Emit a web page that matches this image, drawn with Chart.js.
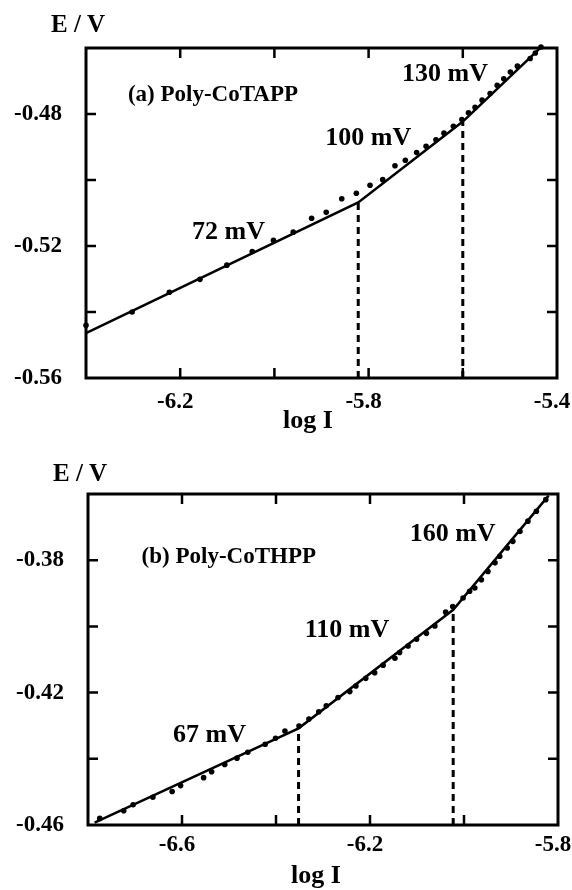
<!DOCTYPE html>
<html>
<head>
<meta charset="utf-8">
<script src="https://cdn.jsdelivr.net/npm/chart.js@4.4.1/dist/chart.umd.min.js"></script>
<style>
  html, body { margin: 0; padding: 0; background: #fff; }
  canvas { display: block; }
</style>
</head>
<body>
<canvas id="chartA" width="572" height="445"></canvas>
<canvas id="chartB" width="572" height="445"></canvas>
<script>
// (a) Poly-CoTAPP: measured points and the three-segment Tafel fit
const aLogI = [-6.400, -6.302, -6.223, -6.158, -6.101, -6.047, -6.002, -5.960, -5.921, -5.890,
  -5.857, -5.826, -5.797, -5.770, -5.744, -5.722, -5.698, -5.678, -5.657, -5.640,
  -5.620, -5.602, -5.588, -5.574, -5.559, -5.542, -5.527, -5.513, -5.499, -5.484,
  -5.457, -5.446, -5.434];
const aE = [-0.5440, -0.5400, -0.5340, -0.5301, -0.5258, -0.5217, -0.5183, -0.5158, -0.5116, -0.5098,
  -0.5057, -0.5040, -0.5016, -0.4999, -0.4957, -0.4940, -0.4917, -0.4898, -0.4878, -0.4858,
  -0.4837, -0.4817, -0.4796, -0.4780, -0.4758, -0.4738, -0.4713, -0.4693, -0.4673, -0.4655,
  -0.4632, -0.4615, -0.4597];
const aFitLogI = [-6.400, -5.822, -5.600, -5.432];
const aFitE = [-0.5464, -0.5068, -0.4823, -0.4595];
const aSlopes = ["72 mV", "100 mV", "130 mV"];

// (b) Poly-CoTHPP
const bLogI = [-6.775, -6.724, -6.704, -6.662, -6.621, -6.603, -6.554, -6.537, -6.509, -6.483,
  -6.460, -6.423, -6.401, -6.381, -6.351, -6.330, -6.309, -6.293, -6.268, -6.243,
  -6.230, -6.209, -6.190, -6.172, -6.147, -6.137, -6.119, -6.101, -6.080, -6.062,
  -6.039, -6.024, -6.002, -5.988, -5.977, -5.963, -5.949, -5.934, -5.924, -5.908,
  -5.896, -5.881, -5.864, -5.846, -5.826];
const bE = [-0.4580, -0.4557, -0.4539, -0.4516, -0.4499, -0.4481, -0.4457, -0.4439, -0.4417, -0.4398,
  -0.4380, -0.4356, -0.4338, -0.4316, -0.4301, -0.4280, -0.4258, -0.4240, -0.4215, -0.4197,
  -0.4180, -0.4157, -0.4140, -0.4117, -0.4096, -0.4079, -0.4059, -0.4039, -0.4021, -0.3999,
  -0.3957, -0.3940, -0.3914, -0.3894, -0.3884, -0.3859, -0.3834, -0.3808, -0.3788, -0.3763,
  -0.3743, -0.3713, -0.3682, -0.3652, -0.3617];
const bFitLogI = [-6.786, -6.352, -6.023, -5.820];
const bFitE = [-0.4593, -0.4308, -0.3950, -0.3605];
const bSlopes = ["67 mV", "110 mV", "160 mV"];

const SERIF = '"Liberation Serif", "Times New Roman", serif';

const zip = (xs, ys) => xs.map((v, i) => ({ x: v, y: ys[i] }));

// frame with inward ticks on all four sides, x tick labels and the text inside the plot
const framePlugin = {
  id: "frame",
  afterDraw(chart, args, opts) {
    const { ctx, chartArea: a, scales } = chart;
    const x = scales.x, y = scales.y;
    ctx.save();
    ctx.strokeStyle = "#000";
    ctx.fillStyle = "#000";

    ctx.lineWidth = 2.5;
    ctx.beginPath();
    x.ticks.forEach((t, i) => {
      if (i === 0 || i === x.ticks.length - 1) return;
      const px = x.getPixelForValue(t.value);
      ctx.moveTo(px, a.bottom); ctx.lineTo(px, a.bottom - 10);
      ctx.moveTo(px, a.top); ctx.lineTo(px, a.top + 10);
    });
    y.ticks.forEach((t, i) => {
      if (i === 0 || i === y.ticks.length - 1) return;
      const py = y.getPixelForValue(t.value);
      ctx.moveTo(a.left, py); ctx.lineTo(a.left + 10, py);
      ctx.moveTo(a.right, py); ctx.lineTo(a.right - 10, py);
    });
    ctx.stroke();

    ctx.lineWidth = 3;
    ctx.strokeRect(a.left, a.top, a.right - a.left, a.bottom - a.top);

    // x tick labels, every other tick
    ctx.font = "bold 23px " + SERIF;
    ctx.textAlign = "center";
    ctx.textBaseline = "alphabetic";
    x.ticks.forEach((t, i) => {
      if (i % 2 !== 1) return;
      ctx.fillText(t.value.toFixed(1), x.getPixelForValue(t.value) - 5, a.bottom + opts.xLabelDrop);
    });

    // axis titles
    ctx.font = "bold 25px " + SERIF;
    ctx.textAlign = "left";
    ctx.fillText("E / V", opts.eTitle[0], opts.eTitle[1]);
    ctx.font = "bold 26px " + SERIF;
    ctx.textAlign = "center";
    ctx.fillText("log I", opts.xTitle[0], opts.xTitle[1]);

    // sample name and Tafel slopes
    ctx.textAlign = "left";
    ctx.font = "bold 23px " + SERIF;
    ctx.fillText(opts.name.text, x.getPixelForValue(opts.name.at[0]), y.getPixelForValue(opts.name.at[1]));
    ctx.font = "bold 26px " + SERIF;
    opts.slopes.forEach((s) => {
      ctx.fillText(s.text, x.getPixelForValue(s.at[0]), y.getPixelForValue(s.at[1]));
    });
    ctx.restore();
  },
};

function tafelChart(id, p) {
  // dotted drops from each break point of the fit down to the axis
  const breaks = [1, 2].map((k) => ({
    type: "line",
    data: [{ x: p.fitLogI[k], y: p.yMin }, { x: p.fitLogI[k], y: p.fitE[k] }],
    borderColor: "#000",
    borderWidth: 3,
    borderDash: [7, 5],
    pointRadius: 0,
    clip: false,
  }));

  return new Chart(document.getElementById(id), {
    type: "scatter",
    data: {
      datasets: [
        {
          type: "line",
          data: zip(p.fitLogI, p.fitE),
          borderColor: "#000",
          borderWidth: 2.5,
          pointRadius: 0,
          tension: 0,
        },
        ...breaks,
        {
          data: zip(p.logI, p.E),
          backgroundColor: "#000",
          borderColor: "#000",
          pointRadius: 2.8,
          borderWidth: 0,
          clip: false,
        },
      ],
    },
    options: {
      responsive: false,
      animation: false,
      layout: { padding: { top: p.top, right: p.right, bottom: 0, left: 0 } },
      plugins: {
        legend: { display: false },
        tooltip: { enabled: false },
        frame: {
          xLabelDrop: p.xLabelDrop,
          eTitle: p.eTitle,
          xTitle: p.xTitle,
          name: p.name,
          slopes: p.slopeLabels,
        },
      },
      scales: {
        x: {
          type: "linear",
          min: p.xMin,
          max: p.xMax,
          ticks: { stepSize: 0.2, display: false },
          grid: { display: false, drawTicks: false },
          border: { display: false },
          afterFit: (s) => {
            s.height = p.xHeight;
            s.paddingLeft = 0;
            s.paddingRight = 0;
          },
        },
        y: {
          min: p.yMin,
          max: p.yMax,
          ticks: {
            stepSize: 0.02,
            padding: 24,
            color: "#000",
            font: { family: SERIF, size: 23, weight: "bold" },
            callback: (v) => {
              const k = Math.round((v - p.yMin) / 0.02);
              return k % 2 === 0 ? v.toFixed(2) : "";
            },
          },
          grid: { display: false, drawTicks: false },
          border: { display: false },
          afterFit: (s) => {
            s.width = p.yWidth;
            s.paddingTop = 0;
            s.paddingBottom = 0;
          },
        },
      },
    },
    plugins: [framePlugin],
  });
}

tafelChart("chartA", {
  logI: aLogI, E: aE, fitLogI: aFitLogI, fitE: aFitE,
  xMin: -6.4, xMax: -5.4, yMin: -0.56, yMax: -0.46,
  top: 48, right: 15, yWidth: 86, xHeight: 67, xLabelDrop: 30,
  eTitle: [51, 32], xTitle: [308, 428],
  name: { text: "(a) Poly-CoTAPP", at: [-6.311, -0.4761] },
  slopeLabels: [
    { text: aSlopes[0], at: [-6.175, -0.5178] },
    { text: aSlopes[1], at: [-5.892, -0.4895] },
    { text: aSlopes[2], at: [-5.729, -0.4700] },
  ],
});

tafelChart("chartB", {
  logI: bLogI, E: bE, fitLogI: bFitLogI, fitE: bFitE,
  xMin: -6.8, xMax: -5.8, yMin: -0.46, yMax: -0.36,
  top: 49, right: 14, yWidth: 88, xHeight: 65, xLabelDrop: 26,
  eTitle: [53, 36], xTitle: [316, 438],
  name: { text: "(b) Poly-CoTHPP", at: [-6.686, -0.3809] },
  slopeLabels: [
    { text: bSlopes[0], at: [-6.619, -0.4348] },
    { text: bSlopes[1], at: [-6.339, -0.4033] },
    { text: bSlopes[2], at: [-6.1155, -0.3741] },
  ],
});
</script>
</body>
</html>
